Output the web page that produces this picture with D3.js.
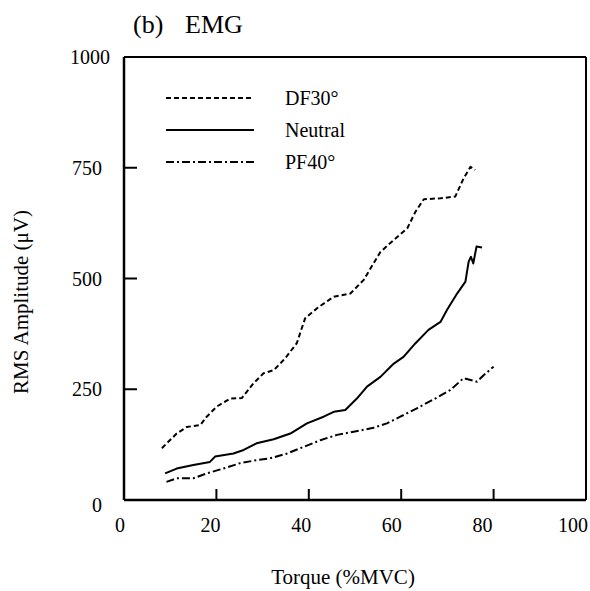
<!DOCTYPE html>
<html>
    <head>
        <meta charset="UTF-8">
        <script src="https://d3js.org/d3.v7.min.js"></script>
        <style>
            body {
                margin: 0;
                background: white;
                font-family: "Liberation Serif", "DejaVu Serif", serif;
            }
            .frame { fill: none; stroke: black; }
            .curve { fill: none; stroke: black; stroke-width: 2px; stroke-linejoin: round; }
            .tick-label { font-size: 20px; fill: black; }
            .axis-title { font-size: 21px; fill: black; }
            .legend-label { font-size: 20px; fill: black; }
        </style>
    </head>
    <body>
        <svg></svg>

        <script>
            // Torque (%MVC) vs RMS amplitude (µV)
            const df30X = [8.2, 11.4, 13.6, 16.5, 17.9, 20.1, 23, 25.5, 28, 30.2, 32.4, 34.9, 37.4, 39.2, 41.8, 45.4, 49, 51.9, 54, 55.5, 58.4, 61.3, 63.1, 64.9, 68.5, 71.7, 73.5, 75, 76];
            const df30Y = [117, 150, 165, 169, 188, 211, 229, 230, 263, 286, 293, 320, 354, 410, 433, 459, 466, 497, 534, 560, 587, 613, 651, 679, 681, 685, 726, 752, 745];

            const neutralX = [8.9, 11.4, 15, 18.6, 19.7, 23.7, 25.9, 28.7, 32.4, 36, 39.6, 43.2, 45.4, 47.9, 50.4, 52.6, 55.5, 58.4, 60.5, 63.1, 65.9, 68.5, 69.9, 72.1, 73.9, 74.6, 75.1, 75.6, 76.3, 77.5];
            const neutralY = [60, 71, 79, 86, 98, 105, 113, 128, 137, 150, 173, 188, 199, 203, 229, 256, 278, 308, 323, 354, 384, 402, 429, 466, 493, 538, 549, 534, 572, 570];

            const pf40X = [9.2, 11.4, 15, 17.9, 21.5, 25.1, 28.7, 31.6, 35.3, 38.9, 42.5, 46.1, 49.7, 54, 56.9, 59.8, 63.4, 67, 70.6, 73.5, 75, 76.4, 77.9, 80];
            const pf40Y = [41, 49, 49, 60, 71, 83, 90, 94, 105, 120, 135, 147, 154, 163, 173, 188, 207, 227, 248, 275, 271, 267, 282, 301];

            const seriesNames = ["DF30°", "Neutral", "PF40°"];
            const seriesDash = ["5,3", null, "8,3,2,3"];

            const xTicks = [0, 20, 40, 60, 80, 100];
            const yTicks = [0, 250, 500, 750, 1000];

            const width = 590, height = 591;
            const margin = { left: 124, right: 4, top: 57, bottom: 91 };

            const svg = d3.select("svg")
                .attr("width", width)
                .attr("height", height);

            const x = d3.scaleLinear()
                .domain([0, 100])
                .range([margin.left, width - margin.right]);

            const y = d3.scaleLinear()
                .domain([0, 1000])
                .range([height - margin.bottom, margin.top]);

            // tick labels in the original sit slightly left of their ticks
            const xLabel = d3.scaleLinear()
                .domain([0, 100])
                .range([120, 573]);

            // frame: top and right thinner
            svg.append("line").attr("class", "frame")
                .attr("x1", x(0)).attr("x2", x(100)).attr("y1", y(1000)).attr("y2", y(1000))
                .attr("stroke-width", 2);
            svg.append("line").attr("class", "frame")
                .attr("x1", x(100)).attr("x2", x(100)).attr("y1", y(1000)).attr("y2", y(0))
                .attr("stroke-width", 2);
            svg.append("line").attr("class", "frame")
                .attr("x1", x(0)).attr("x2", x(0)).attr("y1", y(1000)).attr("y2", y(0))
                .attr("stroke-width", 2.5);
            svg.append("line").attr("class", "frame")
                .attr("x1", x(0)).attr("x2", x(100)).attr("y1", y(0)).attr("y2", y(0))
                .attr("stroke-width", 2.5);

            // inward ticks
            svg.append("g")
                .selectAll("line")
                .data(xTicks.filter(d => d > 0 && d < 100))
                .join("line")
                    .attr("class", "frame")
                    .attr("stroke-width", 2)
                    .attr("x1", d => x(d)).attr("x2", d => x(d))
                    .attr("y1", y(0)).attr("y2", y(0) - 11);

            svg.append("g")
                .selectAll("line")
                .data(yTicks.filter(d => d > 0 && d < 1000))
                .join("line")
                    .attr("class", "frame")
                    .attr("stroke-width", 2)
                    .attr("x1", x(0)).attr("x2", x(0) + 13)
                    .attr("y1", d => y(d)).attr("y2", d => y(d));

            // tick labels
            svg.append("g")
                .selectAll("text")
                .data(xTicks)
                .join("text")
                    .attr("class", "tick-label")
                    .attr("text-anchor", "middle")
                    .attr("x", d => xLabel(d))
                    .attr("y", y(0) + 32)
                    .text(d => d);

            svg.append("g")
                .selectAll("text")
                .data(yTicks)
                .join("text")
                    .attr("class", "tick-label")
                    .attr("text-anchor", "end")
                    .attr("x", d => d === 1000 ? x(0) - 14 : x(0) - 22)
                    .attr("y", d => y(d) + (d === 0 ? 12 : 7))
                    .text(d => d);

            // axis titles
            svg.append("text")
                .attr("class", "axis-title")
                .attr("text-anchor", "middle")
                .attr("x", 343)
                .attr("y", 584)
                .text("Torque (%MVC)");

            svg.append("text")
                .attr("class", "axis-title")
                .attr("text-anchor", "middle")
                .attr("transform", "translate(28, 302) rotate(-90)")
                .text("RMS Amplitude (μV)");

            // panel title
            svg.append("text")
                .attr("font-size", 26)
                .attr("x", 133)
                .attr("y", 33)
                .text("(b)");
            svg.append("text")
                .attr("font-size", 26)
                .attr("x", 185)
                .attr("y", 33)
                .text("EMG");

            // curves
            const series = [
                { xs: df30X, ys: df30Y },
                { xs: neutralX, ys: neutralY },
                { xs: pf40X, ys: pf40Y }
            ];

            const line = d3.line()
                .x(d => x(d[0]))
                .y(d => y(d[1]));

            svg.append("g")
                .selectAll("path")
                .data(series)
                .join("path")
                    .attr("class", "curve")
                    .attr("stroke-dasharray", (d, i) => seriesDash[i])
                    .attr("d", d => line(d.xs.map((v, j) => [v, d.ys[j]])));

            // legend
            const legend = svg.append("g")
                .selectAll("g")
                .data(seriesNames)
                .join("g")
                    .attr("transform", (d, i) => `translate(166, ${98 + i * 32})`);

            legend.append("line")
                .attr("class", "curve")
                .attr("x1", 0).attr("x2", 88)
                .attr("y1", 0).attr("y2", 0)
                .attr("stroke-dasharray", (d, i) => seriesDash[i]);

            legend.append("text")
                .attr("class", "legend-label")
                .attr("x", 119)
                .attr("y", 7)
                .text(d => d);
        </script>
    </body>
</html>
